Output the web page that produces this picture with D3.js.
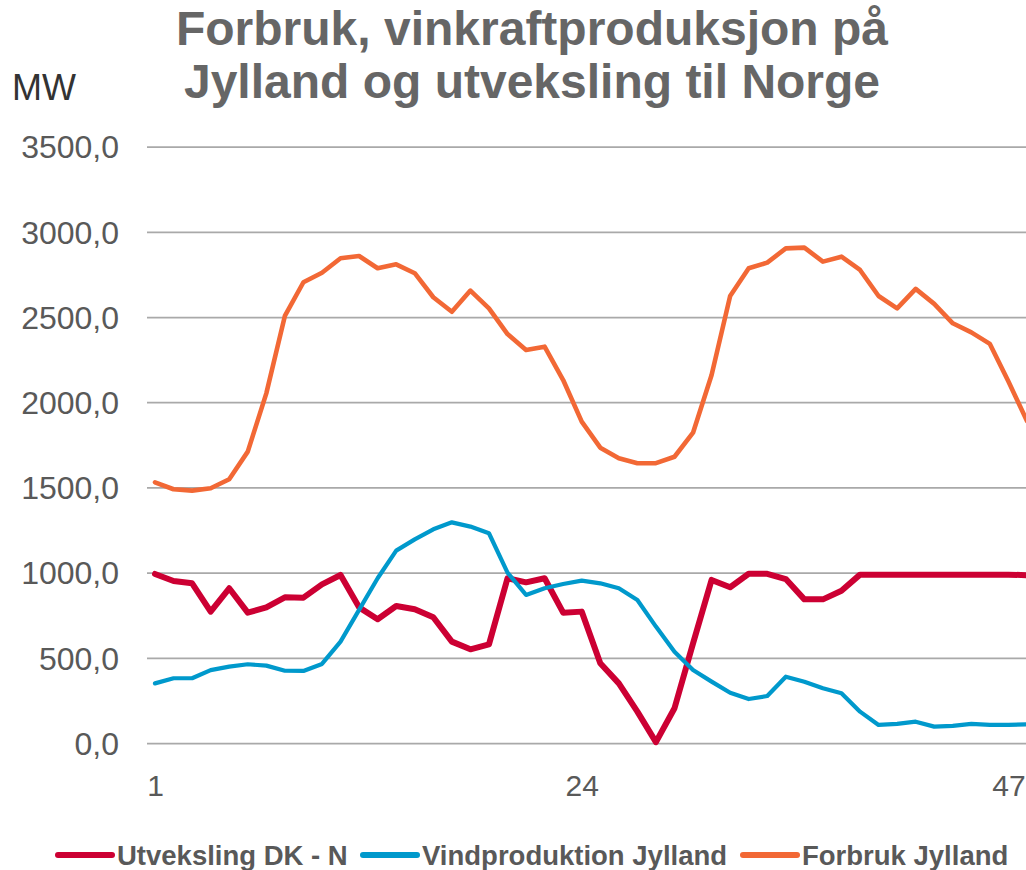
<!DOCTYPE html>
<meta charset="utf-8">
<style>
    body { margin: 0; background: #fff; }
    text { font-family: "Liberation Sans", Arial, sans-serif; }
    .grid line { stroke: #a9a9a9; stroke-width: 1.75; }
    .tick text { fill: #595959; }
    .grid .tick text { font-size: 32px; }
    .xax .tick text { font-size: 30px; }
</style>
<body>
<script src="https://cdn.jsdelivr.net/npm/d3@7"></script>
<script>
// hour of the two days
var hours = [1, 2, 3, 4, 5, 6, 7, 8, 9, 10, 11, 12, 13, 14, 15, 16, 17, 18, 19, 20, 21, 22, 23, 24,
             25, 26, 27, 28, 29, 30, 31, 32, 33, 34, 35, 36, 37, 38, 39, 40, 41, 42, 43, 44, 45, 46, 47, 48];

var utveksling = [992, 951, 937, 771, 908, 765, 796, 855, 853, 931, 986, 796, 726, 804, 785, 738,
                  595, 550, 579, 967, 943, 967, 765, 771, 468, 350, 184, 5, 204, 585, 957, 914,
                  993, 993, 962, 843, 843, 894, 988, 988, 988, 988, 988, 988, 988, 988, 988, 985];

var vind = [350, 380, 380, 428, 448, 462, 454, 424, 423, 464, 595, 781, 967, 1129, 1195, 1254,
            1295, 1270, 1231, 1000, 869, 908, 933, 953, 937, 908, 839, 683, 536, 428, 360, 295,
            258, 276, 389, 360, 321, 292, 184, 106, 112, 125, 96, 100, 112, 106, 106, 110];

var forbruk = [1530, 1489, 1481, 1495, 1548, 1710, 2052, 2506, 2704, 2760, 2845, 2858, 2786, 2809, 2757, 2616,
               2531, 2655, 2551, 2400, 2306, 2326, 2130, 1886, 1733, 1671, 1642, 1642, 1680, 1821, 2160, 2623,
               2786, 2819, 2903, 2907, 2825, 2854, 2776, 2623, 2551, 2665, 2577, 2463, 2410, 2342, 2121, 1890];

var yTicks = [0, 500, 1000, 1500, 2000, 2500, 3000, 3500];
var xTicks = [1, 24, 47];

var seriesNames = ["Utveksling DK - N", "Vindproduktion Jylland", "Forbruk Jylland"];
var seriesColors = ["#cc0033", "#0099cc", "#f26835"];
var seriesWidths = [6, 4.2, 4.6];

var width = 1026, height = 870;

var svg = d3.select("body").append("svg")
    .attr("width", width)
    .attr("height", height);

var x = d3.scaleLinear().domain([1, 48]).range([155, 1027]);
var y = d3.scaleLinear().domain([0, 3500]).range([743, 146.6]);

// gridlines + y labels
var yAxis = svg.append("g")
    .attr("class", "grid")
    .attr("transform", "translate(147,0)")
    .call(d3.axisLeft(y).tickValues(yTicks).tickSize(-900).tickPadding(28)
        .tickFormat(function (d) { return d3.format(".1f")(d).replace(".", ","); }));
yAxis.select(".domain").remove();
yAxis.selectAll(".tick text").attr("dy", "0.35em");

// x labels
var xAxis = svg.append("g")
    .attr("class", "xax")
    .attr("transform", "translate(0,768)")
    .call(d3.axisBottom(x).tickValues(xTicks).tickSize(0).tickPadding(0));
xAxis.select(".domain").remove();
xAxis.selectAll(".tick text").attr("dy", "28px");

var line = d3.line()
    .x(function (d, i) { return x(hours[i]); })
    .y(function (d) { return y(d); });

[utveksling, vind, forbruk].forEach(function (s, i) {
    svg.append("path")
        .datum(s)
        .attr("fill", "none")
        .attr("stroke", seriesColors[i])
        .attr("stroke-width", seriesWidths[i])
        .attr("stroke-linejoin", "round")
        .attr("stroke-linecap", "round")
        .attr("d", line);
});

// title
var title = svg.append("text")
    .attr("x", 532)
    .attr("text-anchor", "middle")
    .style("font-size", "48px")
    .style("font-weight", "bold")
    .style("fill", "#666666");
title.append("tspan").attr("x", 532).attr("y", 45).text("Forbruk, vinkraftproduksjon på");
title.append("tspan").attr("x", 532).attr("y", 98).text("Jylland og utveksling til Norge");

svg.append("text")
    .attr("x", 12)
    .attr("y", 100)
    .style("font-size", "36px")
    .style("fill", "#333333")
    .text("MW");

// legend
var legendX = [58, 363, 743];
var legend = svg.selectAll(".legend")
    .data(seriesNames)
    .enter().append("g")
    .attr("class", "legend")
    .attr("transform", function (d, i) { return "translate(" + legendX[i] + ",855)"; });

legend.append("line")
    .attr("x1", 0).attr("x2", 54)
    .attr("stroke", function (d, i) { return seriesColors[i]; })
    .attr("stroke-width", 6)
    .attr("stroke-linecap", "round");

legend.append("text")
    .attr("x", 59)
    .attr("y", 10)
    .style("font-size", "27.5px")
    .style("font-weight", "bold")
    .style("fill", "#595959")
    .text(function (d) { return d; });
</script>
</body>
